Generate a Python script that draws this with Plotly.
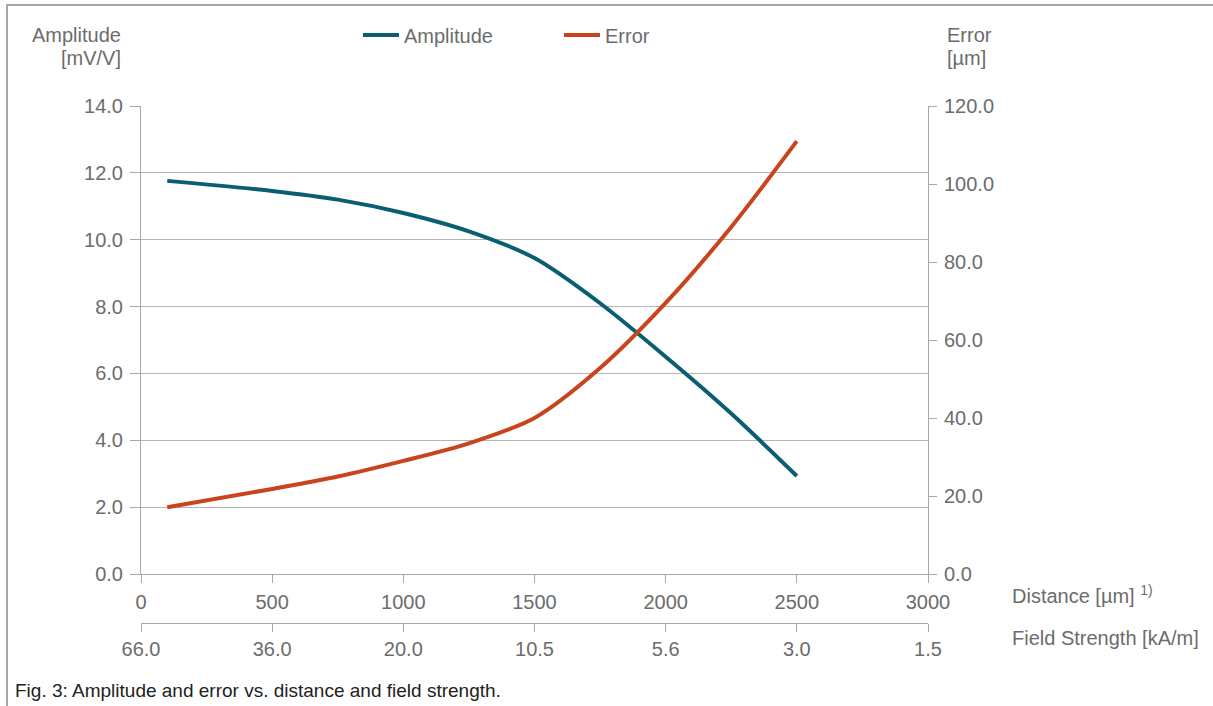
import plotly.graph_objects as go

# ---- data ----
distance_um = [100, 500, 750, 1000, 1250, 1500, 1750, 2000, 2250, 2500]
amplitude_mvv = [11.76, 11.46, 11.20, 10.80, 10.25, 9.45, 8.10, 6.50, 4.80, 2.93]
error_um = [17.1, 21.8, 25.0, 29.0, 33.5, 40.0, 52.8, 69.5, 89.0, 111.0]

dist_ticks = [0, 500, 1000, 1500, 2000, 2500, 3000]
dist_ticktext = ["0", "500", "1000", "1500", "2000", "2500", "3000"]
field_ticktext = ["66.0", "36.0", "20.0", "10.5", "5.6", "3.0", "1.5"]
amp_ticks = [0, 2, 4, 6, 8, 10, 12, 14]
err_ticks = [0, 20, 40, 60, 80, 100, 120]

# ---- styling ----
FONT = "Liberation Sans, Arial, Helvetica, sans-serif"
TXT = "#6c6c6c"
GRID = "#b4b4b4"
AXL = "#a8a8a8"
C_AMP = "#0a5e71"
C_ERR = "#c9431d"
FS = 20

W, H = 1213, 706
ML, MR, MT, MB = 141, 285, 106, 40
PW = W - ML - MR
PH = H - MT - MB


def px_x(px):
    return (px - ML) / PW


def px_y(py):
    return (H - MB - py) / PH


plot_bottom = px_y(574)

fig = go.Figure()
fig.add_trace(go.Scatter(
    x=distance_um, y=amplitude_mvv, name="Amplitude", mode="lines",
    line=dict(color=C_AMP, width=4, shape="spline", smoothing=0.8),
    xaxis="x", yaxis="y"))
fig.add_trace(go.Scatter(
    x=distance_um, y=error_um, name="Error", mode="lines",
    line=dict(color=C_ERR, width=4, shape="spline", smoothing=0.8),
    xaxis="x2", yaxis="y2"))

tickfont = dict(family=FONT, size=FS, color=TXT)

fig.update_layout(
    width=W, height=H, autosize=False,
    margin=dict(l=ML, r=MR, t=MT, b=MB, pad=0),
    paper_bgcolor="white", plot_bgcolor="white",
    font=dict(family=FONT, size=FS, color=TXT),
    showlegend=True,
    legend=dict(orientation="h", x=px_x(358), xanchor="left",
                y=px_y(35), yanchor="middle",
                font=dict(family=FONT, size=FS, color=TXT),
                itemwidth=36,
                entrywidth=150, entrywidthmode="pixels",
                bgcolor="rgba(0,0,0,0)", borderwidth=0),
    xaxis=dict(range=[0, 3000], tickvals=dist_ticks, ticktext=dist_ticktext,
               showgrid=False, zeroline=False, showline=True, linecolor=AXL,
               linewidth=1, ticks="outside", ticklen=8, tickcolor=AXL,
               tickfont=tickfont, ticklabelstandoff=2, anchor="y",
               domain=[0, 1]),
    xaxis2=dict(range=[0, 3000], tickvals=dist_ticks, ticktext=field_ticktext,
                overlaying="x", anchor="free", position=px_y(623), side="bottom",
                showgrid=False, zeroline=False, showline=True, linecolor=AXL,
                linewidth=1, ticks="outside", ticklen=8, tickcolor=AXL,
                tickfont=tickfont, ticklabelstandoff=0),
    yaxis=dict(range=[0, 14], tickvals=amp_ticks, tickformat=".1f",
               domain=[plot_bottom, 1], showgrid=True, gridcolor=GRID,
               gridwidth=1, zeroline=False, showline=True, linecolor=AXL,
               linewidth=1, ticks="outside", ticklen=10, tickcolor=AXL,
               tickfont=tickfont, ticklabelstandoff=3, anchor="x"),
    yaxis2=dict(range=[0, 120], tickvals=err_ticks, tickformat=".1f",
                overlaying="y", side="right", anchor="x2",
                showgrid=False, zeroline=False, showline=True, linecolor=AXL,
                linewidth=1, ticks="outside", ticklen=8, tickcolor=AXL,
                tickfont=tickfont, ticklabelstandoff=3),
)

ann = [
    dict(text="Amplitude", x=px_x(123), y=px_y(35), xanchor="right"),
    dict(text="[mV/V]", x=px_x(123), y=px_y(58), xanchor="right"),
    dict(text="Error", x=px_x(945), y=px_y(35), xanchor="left"),
    dict(text="[µm]", x=px_x(945), y=px_y(58), xanchor="left"),
    dict(text="Distance [µm] <sup>1)</sup>", x=px_x(1010), y=px_y(594),
         xanchor="left"),
    dict(text="Field Strength [kA/m]", x=px_x(1010), y=px_y(638),
         xanchor="left"),
]
for a in ann:
    fig.add_annotation(xref="paper", yref="paper", showarrow=False,
                       yanchor="middle",
                       font=dict(family=FONT, size=FS, color=TXT), **a)

fig.add_annotation(xref="paper", yref="paper", showarrow=False,
                   text="Fig. 3: Amplitude and error vs. distance and field strength.",
                   x=px_x(13), y=px_y(690), xanchor="left", yanchor="middle",
                   font=dict(family=FONT, size=19, color="#222222"))

# outer frame
fig.add_shape(type="rect", xref="paper", yref="paper",
              x0=px_x(7), x1=px_x(1230), y0=px_y(720), y1=px_y(5),
              line=dict(color="#8a8a8a", width=1.5), fillcolor="rgba(0,0,0,0)",
              layer="below")

fig.write_html("out.html",
               config={"displayModeBar": False},
               post_script="document.body.style.margin='0';")
